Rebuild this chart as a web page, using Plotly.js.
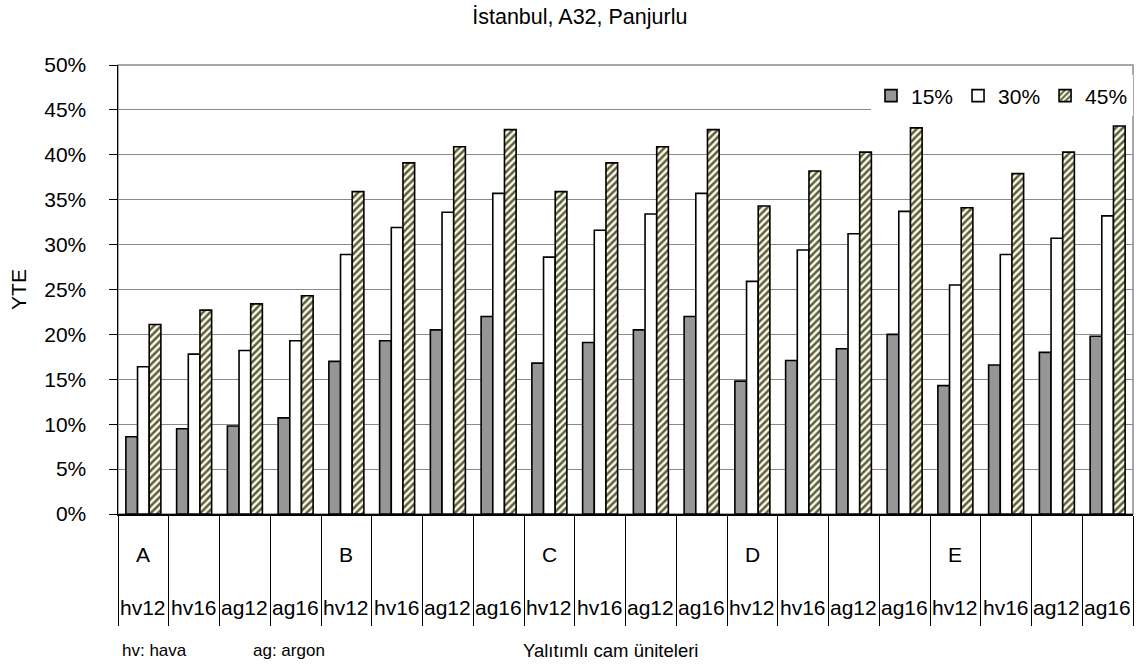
<!DOCTYPE html>
<html>
<head>
<meta charset="utf-8">
<script src="https://cdn.plot.ly/plotly-3.0.1.min.js"></script>
<style>html,body{margin:0;padding:0;background:#fff;}#chart{width:1137px;height:670px;}</style>
</head>
<body>
<div id="chart"></div>
<script>
// ---- data ----
const groups = ['A', 'B', 'C', 'D', 'E'];
const units = ['hv12', 'hv16', 'ag12', 'ag16'];
const seriesNames = ['15%', '30%', '45%'];
const v15 = [8.6, 9.5, 9.8, 10.7, 17.0, 19.3, 20.5, 22.0, 16.8, 19.1, 20.5, 22.0, 14.8, 17.1, 18.4, 20.0, 14.3, 16.6, 18.0, 19.8];
const v30 = [16.4, 17.8, 18.2, 19.3, 28.9, 31.9, 33.6, 35.7, 28.6, 31.6, 33.4, 35.7, 25.9, 29.4, 31.2, 33.7, 25.5, 28.9, 30.7, 33.2];
const v45 = [21.1, 22.7, 23.4, 24.3, 35.9, 39.1, 40.9, 42.8, 35.9, 39.1, 40.9, 42.8, 34.3, 38.2, 40.3, 43.0, 34.1, 37.9, 40.3, 43.2];
const yTicks = [0, 5, 10, 15, 20, 25, 30, 35, 40, 45, 50];
const yTickLabels = ['0%', '5%', '10%', '15%', '20%', '25%', '30%', '35%', '40%', '45%', '50%'];
const titleText = 'İstanbul, A32, Panjurlu';
const xTitle = 'Yalıtımlı cam üniteleri';
const yTitle = 'YTE';
const notes = ['hv: hava', 'ag: argon'];

// ---- build categories ----
const cats = [];
const tickText = [];
groups.forEach(g => units.forEach(u => { cats.push(g + ' ' + u); tickText.push(u); }));

const FONT = 'Liberation Sans, Arial, sans-serif';
const lineStyle = {color: '#000', width: 1.6};

const traces = [
  {type: 'bar', name: seriesNames[0], x: cats, y: v15,
   marker: {color: '#969696', line: lineStyle}},
  {type: 'bar', name: seriesNames[1], x: cats, y: v30,
   marker: {color: '#ffffff', line: lineStyle}},
  {type: 'bar', name: seriesNames[2], x: cats, y: v45,
   marker: {color: '#ffffcc', line: lineStyle,
            pattern: {shape: '/', bgcolor: '#ffffcc', fgcolor: '#5a5a5a', size: 5, solidity: 0.5}}}
];

const annotations = [];
groups.forEach((g, i) => {
  annotations.push({text: g, x: cats[i * units.length], xref: 'x', y: -0.09, yref: 'paper',
    showarrow: false, yanchor: 'middle', xanchor: 'center', font: {family: FONT, size: 21, color: '#000'}});
});
cats.forEach((c, i) => {
  annotations.push({text: tickText[i], x: c, xref: 'x', y: -0.209, yref: 'paper',
    showarrow: false, yanchor: 'middle', xanchor: 'center', font: {family: FONT, size: 21, color: '#000'}});
});
annotations.push({text: notes[0], x: 0.002, xref: 'paper', xanchor: 'left', showarrow: false,
  y: -0.305, yref: 'paper', yanchor: 'middle', font: {family: FONT, size: 17, color: '#000'}});
annotations.push({text: notes[1], x: 0.131, xref: 'paper', xanchor: 'left', showarrow: false,
  y: -0.305, yref: 'paper', yanchor: 'middle', font: {family: FONT, size: 17, color: '#000'}});
annotations.push({text: xTitle, x: 0.397, xref: 'paper', xanchor: 'left', showarrow: false,
  y: -0.305, yref: 'paper', yanchor: 'middle', font: {family: FONT, size: 18.5, color: '#000'}});

const layout = {
  width: 1137, height: 670,
  margin: {l: 118, r: 4, t: 65, b: 156},
  paper_bgcolor: '#fff', plot_bgcolor: '#fff',
  font: {family: FONT, size: 21, color: '#000'},
  title: {text: titleText, x: 0.455, xref: 'paper', xanchor: 'center', y: 0.975, yref: 'container', yanchor: 'middle',
          font: {family: FONT, size: 21.5, color: '#000'}},
  barmode: 'group', bargap: 0.31, bargroupgap: 0,
  showlegend: true,
  legend: {orientation: 'h', x: 1, xanchor: 'right', y: 0.931, yanchor: 'middle',
           bgcolor: '#fff', borderwidth: 0, font: {family: FONT, size: 21, color: '#000'},
           traceorder: 'normal'},
  xaxis: {type: 'category', categoryorder: 'array', categoryarray: cats,
          range: [-0.5, cats.length - 0.5], showticklabels: false,
          tickson: 'boundaries', ticks: 'outside', ticklen: 110, tickcolor: '#000', tickwidth: 1,
          showline: true, linecolor: '#000', linewidth: 1.5, showgrid: false, fixedrange: true},
  yaxis: {range: [0, 50], tickmode: 'array', tickvals: yTicks, ticktext: yTickLabels, ticks: 'outside', ticklen: 8,
          tickcolor: '#000', tickwidth: 1, showline: true, linecolor: '#000', linewidth: 1.5,
          showgrid: true, gridcolor: '#8a8a8a', gridwidth: 1, zeroline: false,
          ticklabelstandoff: 18,
          tickfont: {family: FONT, size: 21, color: '#000'},
          title: {text: yTitle, standoff: 12, font: {family: FONT, size: 21, color: '#000'}}, fixedrange: true},
  shapes: [{type: 'rect', xref: 'paper', yref: 'paper', x0: 0, x1: 1, y0: 0, y1: 1,
            line: {color: '#8a8a8a', width: 1.5}, layer: 'below'}],
  annotations: annotations
};

Plotly.newPlot('chart', traces, layout, {displayModeBar: false, staticPlot: true});
</script>
</body>
</html>
